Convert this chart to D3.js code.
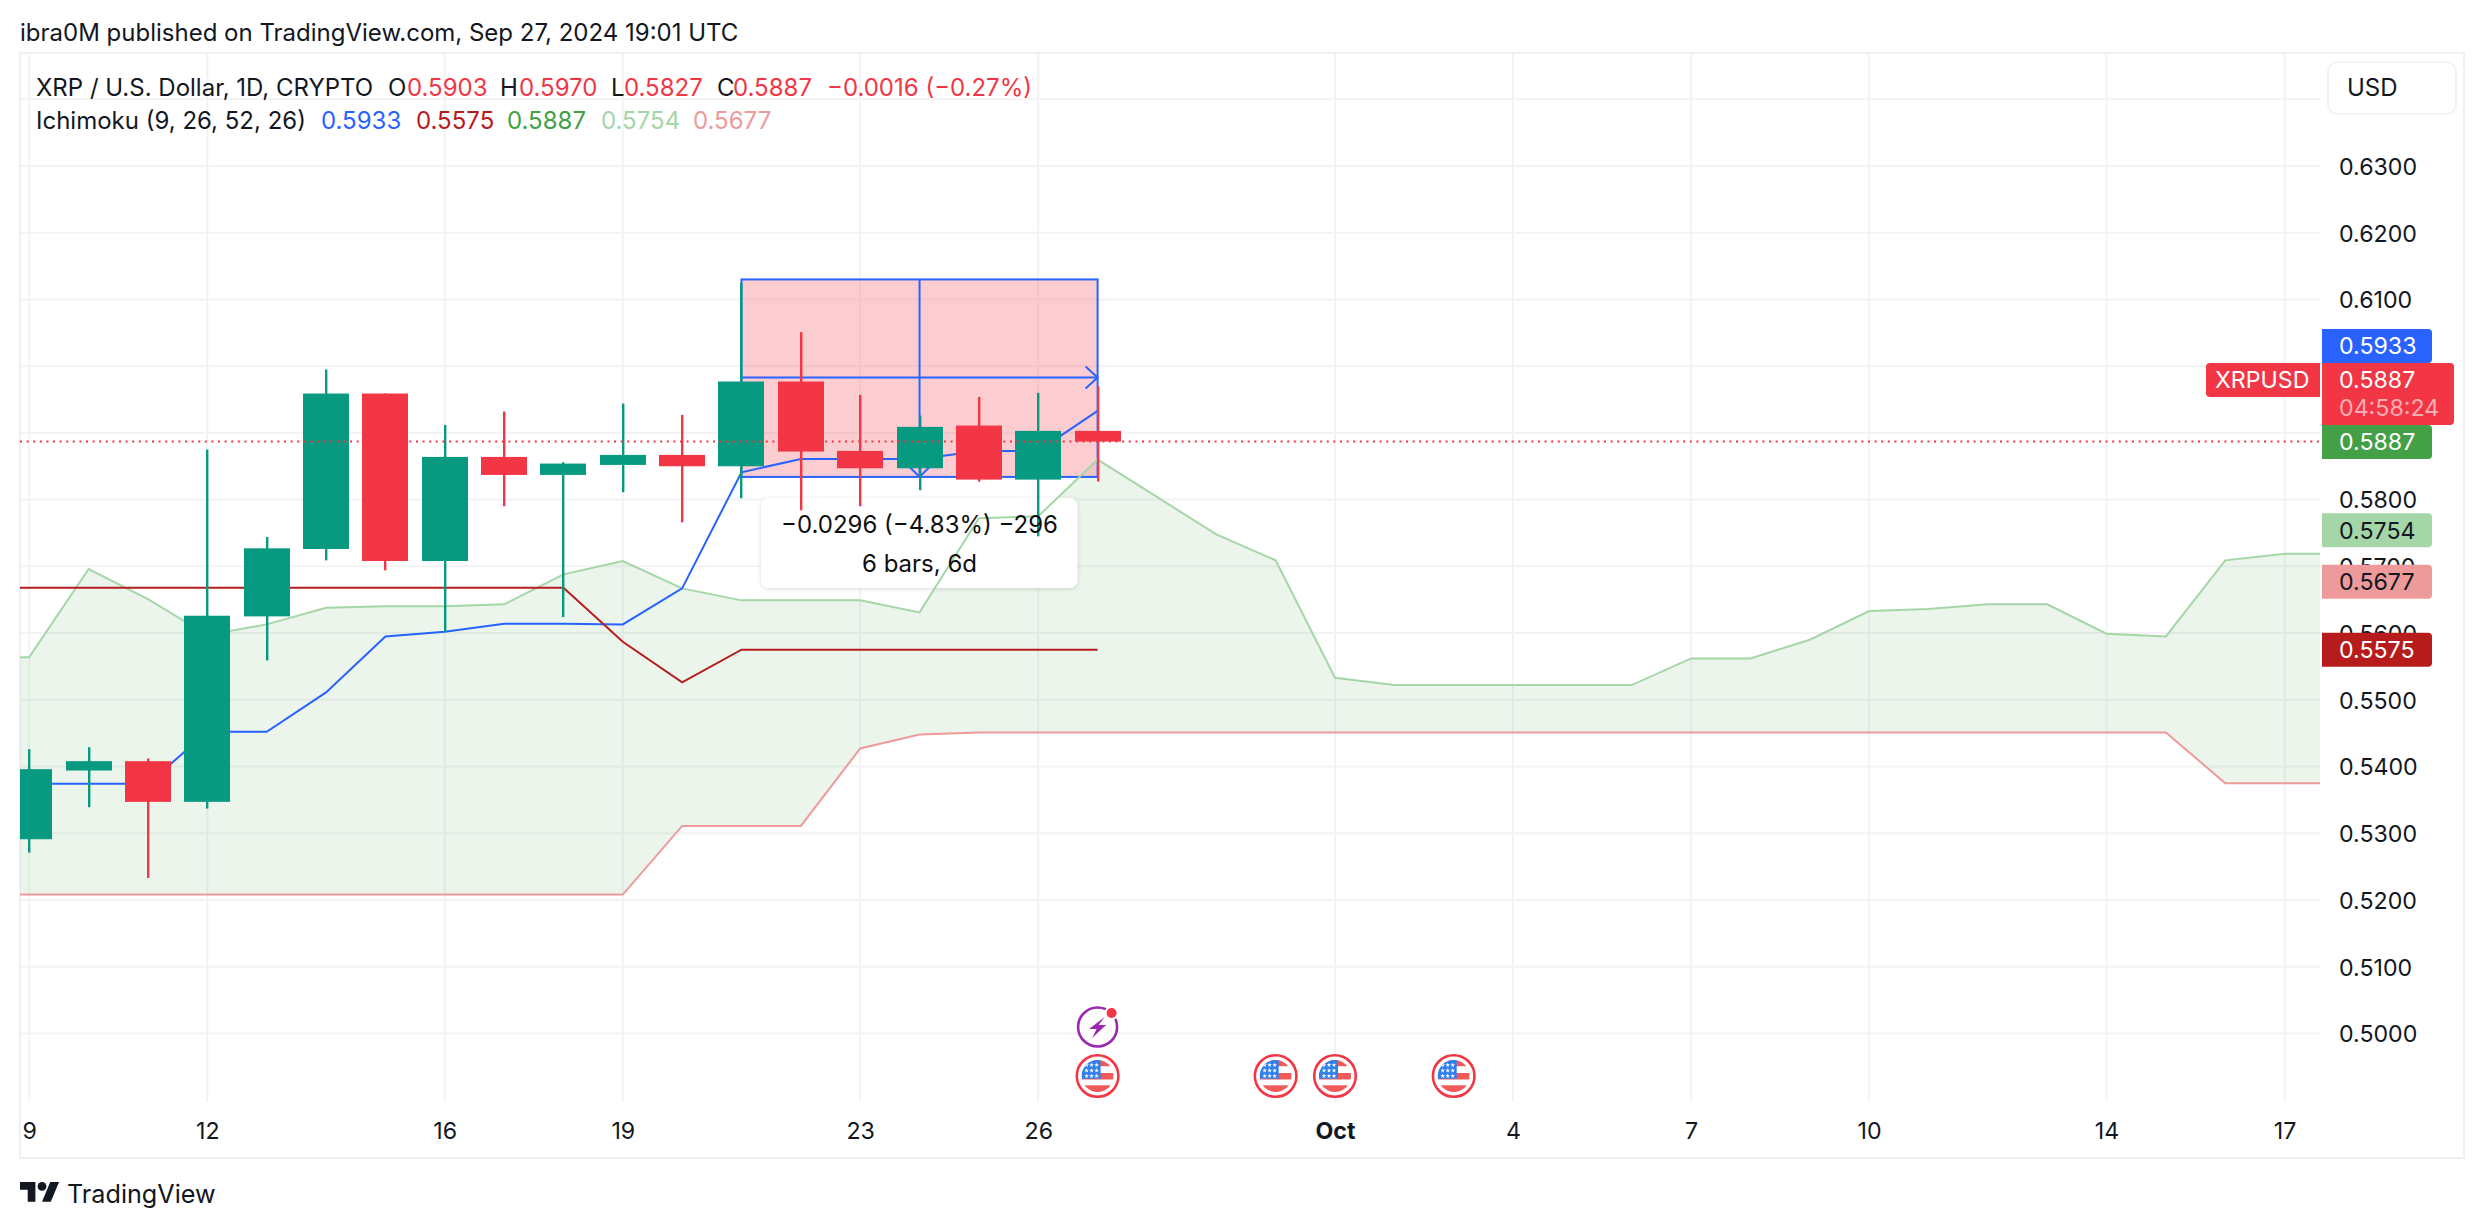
<!DOCTYPE html>
<html><head><meta charset="utf-8">
<script src="https://cdn.jsdelivr.net/npm/d3@7/dist/d3.min.js"></script>
<style>
html,body{margin:0;padding:0;background:#fff;overflow:hidden}
svg{display:block}
text{font-family:Inter,"Noto Sans",sans-serif}
.axis path,.axis line{display:none}
.axis text{font-family:Inter,sans-serif;fill:#131722}
</style></head><body>
<svg id="c" width="2484" height="1228"></svg>
<script>
// ---- data ----
const opens  =[.5291,.5394,.5408,.5347,.5625,.5726,.5959,.5708,.5864,.5837,.5852,.5867,.5850,.5977,.5873,.5847,.5911,.5830,.5903];
const highs  =[.5426,.5429,.5412,.5875,.5744,.5995,.5959,.5912,.5932,.5856,.5944,.5927,.6125,.6051,.5957,.5926,.5954,.5960,.5970];
const lows   =[.5271,.5339,.5233,.5337,.5559,.5709,.5694,.5601,.5790,.5624,.5811,.5766,.5802,.5784,.5790,.5814,.5827,.5745,.5827];
const closes =[.5396,.5408,.5347,.5626,.5727,.5959,.5708,.5864,.5837,.5854,.5867,.5850,.5977,.5872,.5847,.5909,.5830,.5903,.5887];
// Ichimoku lines start one day before the first candle (index -1)
const conversion=[.5374,.5374,.5374,.5374,.5452,.5452,.5511,.5595,.5602,.5614,.5614,.5613,.5667,.5841,.5861,.5861,.5861,.5873,.5873,.5933];
const baseLine  =[.5668,.5668,.5668,.5668,.5668,.5668,.5668,.5668,.5668,.5668,.5668,.5587,.5526,.5575,.5575,.5575,.5575,.5575,.5575,.5575];
const spanA=[.5560,.5564,.5696,.5651,.5597,.5613,.5638,.5640,.5640,.5643,.5688,.5708,.5667,.5649,.5649,.5649,.5631,.5772,.5775,.5860,.5804,.5748,.5709,.5533,.5522,.5522,.5522,.5522,.5522,.5562,.5562,.5590,.5633,.5636,.5643,.5643,.5599,.5595,.5709,.5719,.5719];
const spanB=[.5208,.5208,.5208,.5208,.5208,.5208,.5208,.5208,.5208,.5208,.5208,.5208,.5311,.5311,.5311,.5427,.5448,.5451,.5451,.5451,.5451,.5451,.5451,.5451,.5451,.5451,.5451,.5451,.5451,.5451,.5451,.5451,.5451,.5451,.5451,.5451,.5451,.5451,.5375,.5375,.5375];
const timeTickIdx=[0,3,7,10,14,17,22,25,28,31,35,38];
const timeTickLab=["9","12","16","19","23","26","Oct","4","7","10","14","17"];
const priceTicks=[.63,.62,.61,.60,.59,.58,.57,.56,.55,.54,.53,.52,.51,.50];
const gridPrices=[.64,.63,.62,.61,.60,.59,.58,.57,.56,.55,.54,.53,.52,.51,.50];
const lastPrice=.5887, measureTop=.6130, measureBottom=.5834, measureArrow=.5983;
const measureStart=12, measureEnd=18;
const flagEvents=[18,21,22,24], lightningEvents=[18];
const tags=[["0.5933",.5933,"#2962FF","#fff",346],["0.5887",.5887,"#43A047","#fff",442],["0.5754",.5754,"#A5D6A7","#131722"],["0.5677",.5677,"#EF9A9A","#131722"],["0.5575",.5575,"#B71C1C","#fff"]];
const legend1=[["XRP / U.S. Dollar, 1D, CRYPTO",36,"#131722"],["O",388,"#131722"],["0.5903",407,"#F23645"],["H",500,"#131722"],["0.5970",519,"#F23645"],["L",611,"#131722"],["0.5827",624,"#F23645"],["C",717,"#131722"],["0.5887",733,"#F23645"],["\u22120.0016 (\u22120.27%)",827,"#F23645"]];
const legend2=[["Ichimoku (9, 26, 52, 26)",36,"#131722"],["0.5933",321,"#2962FF"],["0.5575",416,"#B71C1C"],["0.5887",507,"#43A047"],["0.5754",601,"#A5D6A7"],["0.5677",693,"#EF9A9A"]];

// ---- layout ----
const L=20,R=2320,T=54,B=1102;
const x=d3.scaleLinear().domain([0,38]).range([29.3,2284.6]);
const y=d3.scaleLinear().domain([.63,.50]).range([166,1033.4]);
const svg=d3.select("#c");
const GRID="#f3f3f5";
const defs=svg.append("defs");
defs.append("clipPath").attr("id","plot").append("rect").attr("x",L).attr("y",T).attr("width",R-L).attr("height",B-T);
const sh=defs.append("filter").attr("id","sh").attr("x","-10%").attr("y","-20%").attr("width","120%").attr("height","150%");
sh.append("feDropShadow").attr("dx",0).attr("dy",1).attr("stdDeviation",2).attr("flood-color","#000").attr("flood-opacity",.14);
defs.append("clipPath").attr("id","flagclip").append("circle").attr("r",16);

svg.append("text").attr("x",20).attr("y",32).attr("dy",".36em").attr("font-size",24).attr("fill","#131722")
  .text("ibra0M published on TradingView.com, Sep 27, 2024 19:01 UTC");
svg.append("rect").attr("x",20).attr("y",53).attr("width",2444).attr("height",1105).attr("fill","none").attr("stroke","#f0f0f6").attr("stroke-width",2);

const plot=svg.append("g").attr("clip-path","url(#plot)");
// grid
plot.selectAll(".h").data(gridPrices).join("line").attr("x1",L).attr("x2",R).attr("y1",d=>y(d)).attr("y2",d=>y(d)).attr("stroke",GRID).attr("stroke-width",2);
plot.selectAll(".v").data(timeTickIdx).join("line").attr("x1",d=>x(d)).attr("x2",d=>x(d)).attr("y1",T).attr("y2",B).attr("stroke",GRID).attr("stroke-width",2);

// cloud
const off=-1;
plot.append("path").attr("d",d3.area().x((d,i)=>x(i+off)).y0((d,i)=>y(spanB[i])).y1(d=>y(d))(spanA)).attr("fill","rgba(67,160,71,.105)");
// measure box
const mx0=x(measureStart),mx1=x(measureEnd),my0=y(measureTop),my1=y(measureBottom),mc=x((measureStart+measureEnd)/2),ma=y(measureArrow);
plot.append("rect").attr("x",mx0).attr("y",my0).attr("width",mx1-mx0).attr("height",my1-my0).attr("fill","rgba(242,54,69,.25)");
const bl="#2962FF";
const mg=plot.append("g").attr("stroke",bl).attr("stroke-width",2).attr("fill","none");
mg.append("rect").attr("x",mx0).attr("y",my0).attr("width",mx1-mx0).attr("height",my1-my0);
mg.append("line").attr("x1",mc).attr("x2",mc).attr("y1",my0).attr("y2",my1);
mg.append("line").attr("x1",mx0).attr("x2",mx1).attr("y1",ma).attr("y2",ma);
mg.append("path").attr("d",`M${mx1-12},${ma-11}L${mx1},${ma}L${mx1-12},${ma+11}`);
mg.append("path").attr("d",`M${mc-10},${my1-10}L${mc},${my1}L${mc+10},${my1-10}`);
// tooltip background
plot.append("rect").attr("x",761).attr("y",498).attr("width",316.5).attr("height",90).attr("rx",8).attr("fill","#fff").attr("filter","url(#sh)");
// lines
const ln=d3.line().x((d,i)=>x(i+off)).y(d=>y(d));
plot.append("path").attr("d",ln(spanB)).attr("fill","none").attr("stroke","#EF9A9A").attr("stroke-width",2);
plot.append("path").attr("d",ln(spanA)).attr("fill","none").attr("stroke","#A5D6A7").attr("stroke-width",2);
plot.append("path").attr("d",ln(conversion)).attr("fill","none").attr("stroke",bl).attr("stroke-width",2);
plot.append("path").attr("d",ln(baseLine)).attr("fill","none").attr("stroke","#B71C1C").attr("stroke-width",2);
// candles
const col=i=>closes[i]>=opens[i]?"#089981":"#F23645";
const bars=d3.range(opens.length);
plot.selectAll(".w").data(bars).join("rect").attr("x",i=>Math.round(x(i))-1).attr("width",2.4).attr("y",i=>y(highs[i])).attr("height",i=>y(lows[i])-y(highs[i])).attr("fill",col);
plot.selectAll(".b").data(bars).join("rect").attr("x",i=>Math.round(x(i)-23)).attr("width",46).attr("y",i=>y(Math.max(opens[i],closes[i]))).attr("height",i=>Math.abs(y(opens[i])-y(closes[i]))).attr("fill",col);
// tooltip text
const tt=plot.append("g").attr("text-anchor","middle").attr("fill","#0f0f0f").attr("font-size",24);
tt.append("text").attr("x",mc).attr("y",524).attr("dy",".36em").text("\u22120.0296 (\u22124.83%) \u2212296");
tt.append("text").attr("x",mc).attr("y",563).attr("dy",".36em").text("6 bars, 6d");
// last price line
plot.append("line").attr("x1",L).attr("x2",R).attr("y1",y(lastPrice)).attr("y2",y(lastPrice)).attr("stroke","#F23645").attr("stroke-width",2).attr("stroke-dasharray","2 4.6");

// events
const ev=svg.append("g");
function flag(g){
  g.append("circle").attr("r",20.8).attr("fill","#fff").attr("stroke","#F23645").attr("stroke-width",2.6);
  const c=g.append("g").attr("clip-path","url(#flagclip)");
  c.append("circle").attr("r",16).attr("fill","#fff");
  [[-16,6.2],[-3,6.5],[9.3,7]].forEach(s=>c.append("rect").attr("x",-16).attr("y",s[0]).attr("width",32).attr("height",s[1]).attr("fill","#F05A5A"));
  c.append("rect").attr("x",-16).attr("y",-16).attr("width",19).attr("height",18.7).attr("fill","#2F80ED");
  [-11,-5.5,0].forEach(sy=>[-11,-6,-1].forEach(sx=>c.append("path").attr("transform",`translate(${sx},${sy})`).attr("d",d3.symbol(d3.symbolStar,7)()).attr("fill","#fff")));
}
flagEvents.forEach(i=>flag(ev.append("g").attr("transform",`translate(${x(i)},1076)`)));
lightningEvents.forEach(i=>{
  const g=ev.append("g").attr("transform",`translate(${x(i)},1027)`);
  g.append("circle").attr("r",19.5).attr("fill","#fff").attr("stroke","#9C27B0").attr("stroke-width",2.6);
  g.append("path").attr("d","M7,-10L-8.5,2H-1L-5.5,11L8.5,-2H1Z").attr("fill","#9C27B0");
  g.append("circle").attr("cx",14).attr("cy",-14).attr("r",7).attr("fill","#fff");
  g.append("circle").attr("cx",14).attr("cy",-14).attr("r",5).attr("fill","#F23645");
});

// axes
const FS=23.2;
const ax=svg.append("g").attr("class","axis").attr("transform","translate(2339,0)")
  .call(d3.axisRight(y).tickValues(priceTicks).tickFormat(d3.format(".4f")).tickSize(0).tickPadding(0));
ax.selectAll("text").attr("font-size",FS).attr("dy",".36em");
const at=svg.append("g").attr("class","axis").attr("transform","translate(0,1131)")
  .call(d3.axisBottom(x).tickValues(timeTickIdx).tickFormat((d,i)=>timeTickLab[i]).tickSize(0).tickPadding(0));
at.selectAll("text").attr("font-size",FS).attr("dy",".36em").attr("font-weight",(d,i)=>timeTickLab[i]==="Oct"?700:400);

// price tags
function tagPath(x0,x1,y0,y1,r){return `M${x0},${y0}H${x1-r}Q${x1},${y0} ${x1},${y0+r}V${y1-r}Q${x1},${y1} ${x1-r},${y1}H${x0}Z`;}
const tg=svg.append("g");
tags.forEach(t=>{
  const cy=t[4]||y(t[1]);
  tg.append("path").attr("d",tagPath(2322,2432,cy-17,cy+17,4)).attr("fill",t[2]);
  tg.append("text").attr("x",2339).attr("y",cy).attr("dy",".36em").attr("font-size",FS).attr("fill",t[3]).text(t[0]);
});
tg.append("path").attr("d",tagPath(2322,2454,363,425,4)).attr("fill","#F23645");
tg.append("text").attr("x",2339).attr("y",380).attr("dy",".36em").attr("font-size",FS).attr("fill","#fff").text("0.5887");
tg.append("text").attr("x",2339).attr("y",408).attr("dy",".36em").attr("font-size",FS).attr("fill","#fff").attr("fill-opacity",.6).text("04:58:24");
tg.append("path").attr("d",`M2320,363H2210Q2206,363 2206,367V393Q2206,397 2210,397H2320Z`).attr("fill","#F23645");
tg.append("text").attr("x",2215).attr("y",380).attr("dy",".36em").attr("font-size",FS).attr("fill","#fff").text("XRPUSD");

// USD
svg.append("rect").attr("x",2328).attr("y",62).attr("width",128).attr("height",52).attr("rx",9).attr("fill","#fff").attr("stroke","#f0f0f6").attr("stroke-width",1.6);
svg.append("text").attr("x",2347).attr("y",87).attr("dy",".36em").attr("font-size",24).attr("fill","#131722").text("USD");

// legend
[[legend1,87],[legend2,120]].forEach(([a,yy])=>a.forEach(d=>svg.append("text").attr("x",d[1]).attr("y",yy).attr("dy",".36em").attr("font-size",24).attr("fill",d[2]).text(d[0])));

// logo
const lg=svg.append("g").attr("transform","translate(20,1177.6) scale(1.1)").attr("fill","#131722");
lg.append("path").attr("d","M14 22H7V11H0V4h14v18zM28 22h-8l7.5-18h8L28 22z");
lg.append("circle").attr("cx",20).attr("cy",8).attr("r",4);
svg.append("text").attr("x",67).attr("y",1194).attr("dy",".36em").attr("font-size",25.2).attr("fill","#131722").text("TradingView");
</script>
</body></html>
